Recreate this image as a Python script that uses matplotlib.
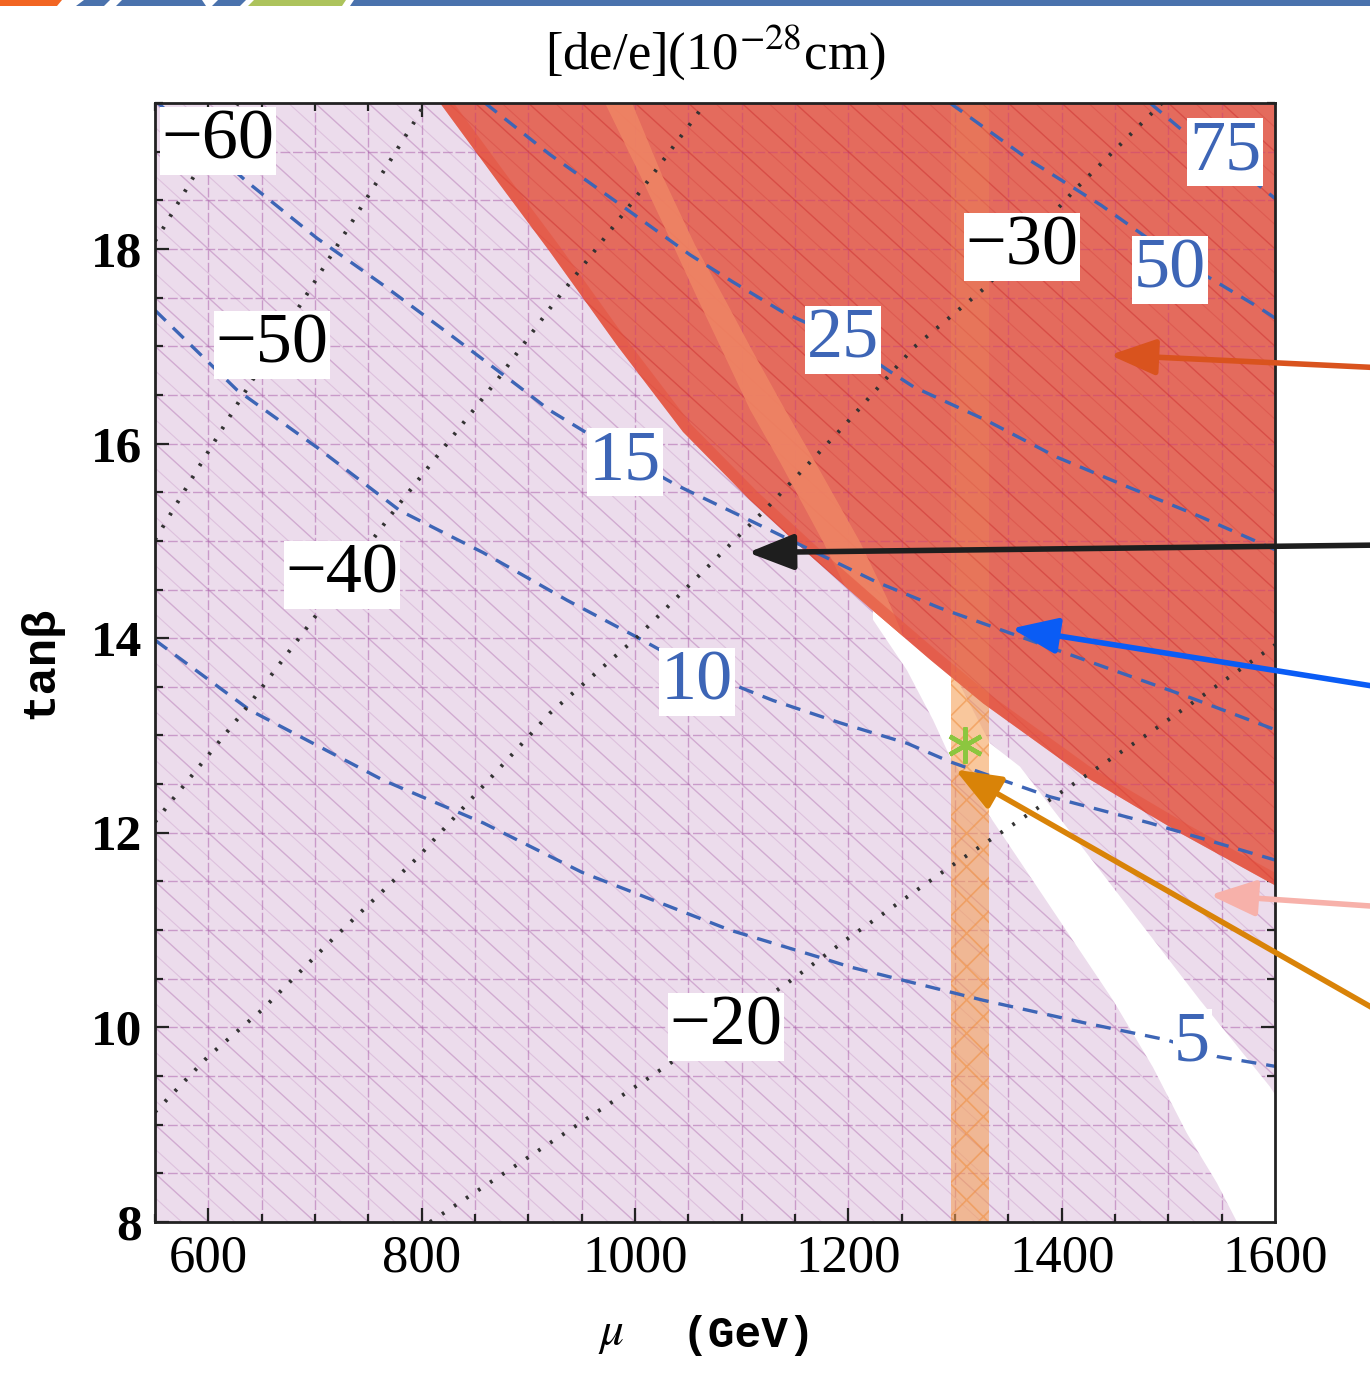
import numpy as np
import matplotlib
matplotlib.use("Agg")
import matplotlib.pyplot as plt
from matplotlib.patches import Polygon, Rectangle
from matplotlib.collections import LineCollection
from matplotlib.ticker import MultipleLocator

plt.rcParams['font.family'] = ['Liberation Serif', 'DejaVu Serif']
plt.rcParams['mathtext.fontset'] = 'stix'
plt.rcParams['hatch.linewidth'] = 1.2

# ---------------------------------------------------------------- data
MU_RANGE = (550, 1600)
TB_RANGE = (8, 19.5)

# d_e/e contours (10^-28 cm): mu [GeV], tan(beta)
de5_mu = [550, 639, 764, 858, 951, 1089, 1173, 1202, 1326, 1420, 1499, 1546, 1600]
de5_tb = [13.98, 13.26, 12.54, 12.10, 11.59, 11.00, 10.72, 10.62, 10.28, 10.05, 9.87, 9.70, 9.60]
de10_mu = [550, 626.9, 701.9, 779.7, 857.5, 936.3, 1001.9, 1058.1, 1129.4, 1192.2, 1255.0, 1295.3, 1389.1, 1482.8, 1600]
de10_tb = [17.37, 16.55, 15.96, 15.31, 14.88, 14.39, 14.01, 13.67, 13.36, 13.13, 12.92, 12.73, 12.37, 12.10, 11.72]
de15_mu = [552.8, 636.3, 701.9, 763.8, 826.6, 889.4, 920.3, 990.6, 1039.4, 1107.8, 1154.7, 1225.9, 1285.9, 1349.7, 1435.9, 1520.3, 1600]
de15_tb = [19.50, 18.69, 18.11, 17.63, 17.12, 16.60, 16.34, 15.87, 15.57, 15.21, 14.96, 14.58, 14.31, 14.06, 13.72, 13.39, 13.06]
de25_mu = [859.4, 920.3, 983.1, 1051.6, 1091.9, 1138.8, 1196.9, 1236.3, 1261.6, 1329.1, 1395.6, 1463.1, 1529.7, 1600]
de25_tb = [19.50, 18.97, 18.48, 17.94, 17.66, 17.35, 17.06, 16.76, 16.58, 16.24, 15.86, 15.55, 15.25, 14.91]
de50_mu = [1295.3, 1370.3, 1436.9, 1502.5, 1539.1, 1586.1, 1600]
de50_tb = [19.50, 18.91, 18.45, 17.94, 17.70, 17.39, 17.29]
de75_mu = [1482.8, 1510.9, 1553.1, 1600]
de75_tb = [19.50, 19.24, 18.93, 18.52]

# second family of contours (negative levels)
m60_mu = [550, 557.5, 582.8, 627.8]
m60_tb = [18.08, 18.21, 18.68, 19.50]
m50_mu = [550, 585.6, 629.7, 685.9, 795.6, 803.1]
m50_tb = [15.01, 15.66, 16.45, 17.42, 19.35, 19.50]
m40_mu = [550, 564.1, 639.1, 692.5, 776.9, 870.6, 920.3, 995.3, 1058.1, 1065.6]
m40_tb = [12.11, 12.31, 13.33, 14.11, 15.35, 16.65, 17.39, 18.45, 19.38, 19.50]
m30_mu = [550, 599.7, 650.3, 713.1, 796.6, 920.3, 1001.9, 1124.7, 1195.0, 1261.6, 1329.1, 1412.5, 1494.1]
m30_tb = [9.13, 9.70, 10.18, 10.87, 11.75, 13.23, 14.01, 15.35, 16.17, 16.99, 17.61, 18.61, 19.50]
m20_mu = [807.8, 813.4, 1014.1, 1143.4, 1197.8, 1295.3, 1389.1, 1482.8, 1600]
m20_tb = [8.00, 8.04, 9.49, 10.46, 10.90, 11.65, 12.34, 13.03, 13.93]

# excluded region (upper right) boundary
excl_mu = [817.2, 873.4, 920.3, 983.1, 1045.0, 1107.8, 1164.1, 1220.3, 1276.6, 1326.3, 1420.0, 1513.8, 1600]
excl_tb = [19.50, 18.66, 17.97, 17.01, 16.12, 15.42, 14.85, 14.31, 13.78, 13.33, 12.59, 11.98, 11.46]

# narrow strip inside the excluded region
strip_tb = [19.50, 18.76, 18.04, 17.48, 16.96, 16.35, 15.81, 14.99, 14.39, 13.98]
strip_lo_mu = [971.9, 1004.7, 1035.6, 1059.1, 1081.6, 1107.8, 1135.9, 1176.3, 1203.4, 1222.2]
strip_hi_mu = [997.2, 1025.3, 1056.3, 1084.4, 1109.7, 1140.6, 1168.8, 1210.9, 1237.2, 1253.1]

# allowed wedge edges
allowed_lo_mu = [1223.1, 1255.0, 1279.4, 1295.3, 1448.1, 1485.6, 1517.5, 1545.6, 1564.4]
allowed_lo_tb = [14.19, 13.67, 13.16, 12.78, 10.28, 9.59, 8.91, 8.40, 8.00]
allowed_hi_mu = [1600, 1595.3, 1529.7, 1360.9, 1332.8, 1300.0]
allowed_hi_tb = [9.31, 9.39, 10.28, 12.68, 12.92, 13.62]

# vertical band in mu
band_mu = (1296, 1332)

# benchmark point
bench_mu, bench_tb = 1309.4, 12.90

label_text = ['−60', '−50', '−40', '−30', '−20', '5', '10', '15', '25', '50', '75']
label_mu = [609.0, 659.7, 725.3, 1362.8, 1085.3, 1522.2, 1058.1, 990.6, 1195.0, 1501.6, 1553.1]
label_tb = [19.11, 17.01, 14.65, 18.02, 10.00, 9.84, 13.55, 15.81, 17.06, 17.78, 19.00]

x_ticks = [600, 800, 1000, 1200, 1400, 1600]
y_ticks = [8, 10, 12, 14, 16, 18]

# ---------------------------------------------------------------- styles
LAVENDER = '#ecdcec'
RED = '#e46b5d'
STRIP = '#ef8464'
BLUE = '#3d65b6'
DOT = '#333333'

fig = plt.figure(figsize=(13.7, 13.77), dpi=100)
ax = fig.add_axes([155 / 1370, 1 - 1222 / 1377, 1120 / 1370, 1119 / 1377])
ax.set_xlim(*MU_RANGE)
ax.set_ylim(*TB_RANGE)
ax.set_facecolor(LAVENDER)


def mesh(color_grid, color_diag, a_grid, a_diag, lw, z, clip=None):
    segs = []
    for m in np.arange(550, 1601, 50):
        segs.append([(m, 8), (m, 19.5)])
    for t in np.arange(8, 19.51, 0.5):
        segs.append([(550, t), (1600, t)])
    grid = LineCollection(segs, colors=color_grid, linewidths=lw, alpha=a_grid,
                          linestyles=(0, (7, 2)), zorder=z)
    main_d, mid_d = [], []
    for k, c in enumerate(np.arange(13.5, 35.6, 0.25)):
        seg = [(550, c - 5.5), (1600, c - 16.0)]
        (main_d if k % 2 == 0 else mid_d).append(seg)
    d1 = LineCollection(main_d, colors=color_diag, linewidths=lw, alpha=a_diag, zorder=z)
    d2 = LineCollection(mid_d, colors=color_diag, linewidths=lw * 0.8,
                        alpha=a_diag * 0.55, zorder=z)
    for coll in (grid, d1, d2):
        ax.add_collection(coll)
        if clip is not None:
            coll.set_clip_path(clip)


# background mesh of the shaded region
mesh('#a85aa8', '#b070b0', 0.5, 0.45, 1.0, 1)

# vertical band (below the excluded region)
ax.add_patch(Rectangle((band_mu[0], 8), band_mu[1] - band_mu[0], 11.5,
                       facecolor='#f7a055', edgecolor='none', alpha=0.45, zorder=2.5))
ax.add_patch(Rectangle((band_mu[0], 8), band_mu[1] - band_mu[0], 11.5,
                       facecolor='none', edgecolor='#ee8a3a', hatch='x',
                       linewidth=0, alpha=0.55, zorder=2.6))

# allowed (white) wedge
wedge_pts = list(zip(allowed_lo_mu, allowed_lo_tb)) + [(1605, 7.9), (1605, 9.31)] \
    + list(zip(allowed_hi_mu, allowed_hi_tb)) + [(1280, 14.2), (1223, 14.4)]
ax.add_patch(Polygon(wedge_pts, closed=True, facecolor='white', edgecolor='none', zorder=2))

# excluded region
red_pts = list(zip(excl_mu, excl_tb)) + [(1605, 11.46), (1605, 19.6), (817.2, 19.6)]
red_patch = Polygon(red_pts, closed=True, facecolor=RED, edgecolor='none', zorder=3)
ax.add_patch(red_patch)
mesh('#c8407a', '#cc3030', 0.45, 0.5, 1.0, 3.1, clip=red_patch)

strip_pts = list(zip(strip_lo_mu, strip_tb)) + list(zip(strip_hi_mu[::-1], strip_tb[::-1]))
sp = Polygon(strip_pts, closed=True, facecolor=STRIP, edgecolor='none', alpha=0.9, zorder=3.2)
ax.add_patch(sp)
sp.set_clip_path(red_patch)

edge, = ax.plot(excl_mu, excl_tb, color='#e5503c', lw=16, alpha=0.5,
                solid_capstyle='butt', zorder=3.3)
edge.set_clip_path(red_patch)

# faint continuation of the vertical band over the excluded region
ax.add_patch(Rectangle((band_mu[0], 8), band_mu[1] - band_mu[0], 11.5,
                       facecolor='#f39a50', edgecolor='none', alpha=0.22, zorder=3.5))

# contours
for mu, tb in [(de5_mu, de5_tb), (de10_mu, de10_tb), (de15_mu, de15_tb),
               (de25_mu, de25_tb), (de50_mu, de50_tb), (de75_mu, de75_tb)]:
    ax.plot(mu, tb, color=BLUE, lw=2.4, linestyle=(0, (4.5, 3)), zorder=5)
for mu, tb in [(m60_mu, m60_tb), (m50_mu, m50_tb), (m40_mu, m40_tb),
               (m30_mu, m30_tb), (m20_mu, m20_tb)]:
    ax.plot(mu, tb, color=DOT, lw=2.8, linestyle=(0, (0.7, 3.0)), zorder=5)

ax.plot([bench_mu], [bench_tb], marker=(6, 2, 0), markersize=26,
        markeredgewidth=3.2, color='#8cc63f', zorder=6)

for txt, m, t in zip(label_text, label_mu, label_tb):
    col = 'black' if txt.startswith('−') else BLUE
    ax.text(m, t, txt, ha='center', va='center', fontsize=52, color=col, zorder=7,
            bbox=dict(boxstyle='square,pad=0.02', facecolor='white', edgecolor='none'))

# axes styling
ax.set_xticks(x_ticks)
ax.set_yticks(y_ticks)
ax.xaxis.set_minor_locator(MultipleLocator(50))
ax.yaxis.set_minor_locator(MultipleLocator(0.5))
ax.tick_params(which='both', direction='in', top=True, right=True, width=1.6,
               color='#222222', zorder=8)
ax.tick_params(which='major', length=10)
ax.tick_params(which='minor', length=6)
ax.tick_params(axis='x', labelsize=38, pad=9)
ax.tick_params(axis='y', labelsize=37, pad=9)
for lbl in ax.get_yticklabels():
    lbl.set_fontweight('bold')
for s in ax.spines.values():
    s.set_linewidth(2.0)
    s.set_color('#222222')
    s.set_zorder(9)

fig.text(715 / 1370, 1 - 52 / 1377, r'[de/e](10$^{-28}$cm)', ha='center', va='center',
         fontsize=38)
fig.text(611 / 1370, 1 - 1335 / 1377, r'$\mu$', ha='center', va='center', fontsize=34)
fig.text(748 / 1370, 1 - 1335 / 1377, '(GeV)', ha='center', va='center', fontsize=32,
         family=['Liberation Mono', 'DejaVu Sans Mono'], fontweight='bold')
fig.text(40 / 1370, 1 - 662 / 1377, 'tanβ', ha='center', va='center', fontsize=34,
         rotation=90, family=['Liberation Mono', 'DejaVu Sans Mono'], fontweight='bold')

# annotation arrows from the right margin
arrows = [
    ((1445.3, 16.91), 368, '#d9531e'),
    ((1106.0, 14.88), 545, '#1e1e1e'),
    ((1353.0, 14.10), 688, '#0a5cf5'),
    ((1539.0, 11.36), 907, '#f7b1aa'),
    ((1300.0, 12.65), 1015, '#d98308'),
]
for tip, ypix, col in arrows:
    ax.annotate('', xy=tip, xycoords='data', xytext=(1385, 1377 - ypix),
                textcoords='figure pixels', annotation_clip=False, zorder=10,
                arrowprops=dict(arrowstyle='-|>,head_length=1.4,head_width=0.55',
                                color=col, lw=4, shrinkA=0, shrinkB=0,
                                mutation_scale=20))

# header strip
def strip_poly(pts, color):
    fig.add_artist(Polygon([(x / 1370, 1 - y / 1377) for x, y in pts], closed=True,
                           facecolor=color, edgecolor='none', transform=fig.transFigure))

strip_poly([(0, 0), (62, 0), (57, 6), (0, 6)], '#f26522')
strip_poly([(76, 6), (84, 0), (110, 0), (104, 6)], '#4a72ad')
strip_poly([(116, 6), (122, 0), (202, 0), (206, 6)], '#4a72ad')
strip_poly([(212, 6), (218, 0), (246, 0), (240, 6)], '#4a72ad')
strip_poly([(248, 6), (254, 0), (346, 0), (342, 6)], '#adc35c')
strip_poly([(350, 6), (354, 0), (1370, 0), (1370, 6)], '#4a72ad')

fig.savefig('out.png', dpi=100)
